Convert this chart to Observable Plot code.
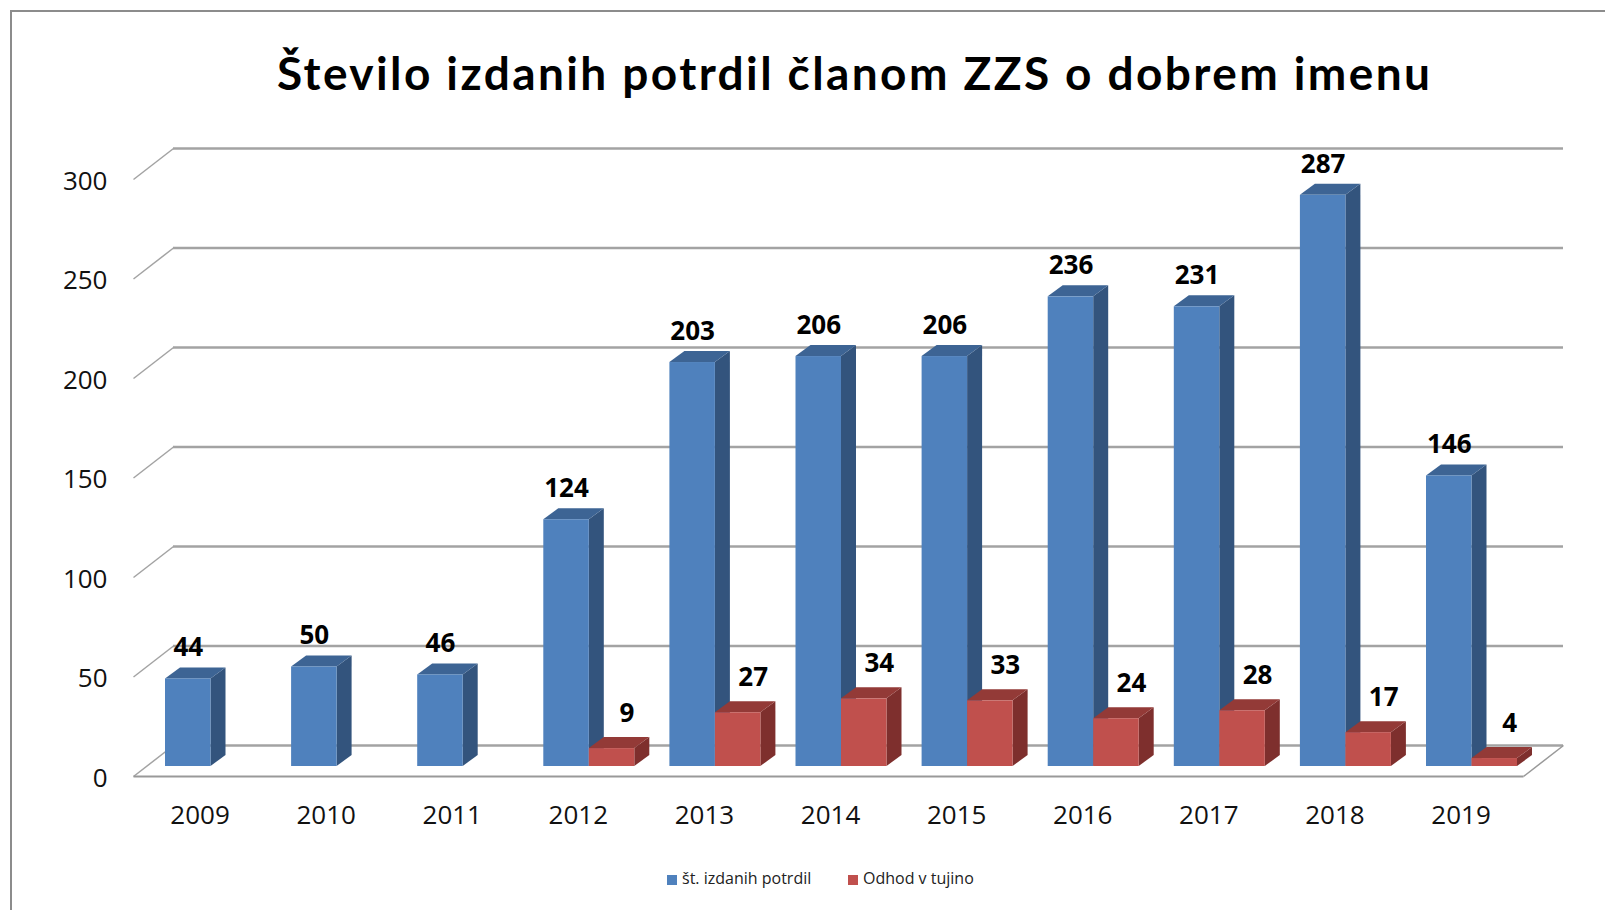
<!DOCTYPE html>
<html>
<head>
<meta charset="utf-8">
<script src="https://cdn.jsdelivr.net/npm/d3@7"></script>
<script src="https://cdn.jsdelivr.net/npm/@observablehq/plot@0.6"></script>
<style>
  html, body { margin: 0; padding: 0; background: #fff; }
  #wrap { position: relative; width: 1605px; height: 910px; overflow: hidden; background: #fff; }
  #frame { position: absolute; left: 10px; top: 10px; width: 1600px; height: 905px;
           border-left: 2px solid #8c8c8c; border-top: 2px solid #8c8c8c; box-sizing: border-box; }
  #chart { position: absolute; left: 0; top: 0; }
  #title { position: absolute; left: 277px; top: 50px; white-space: nowrap;
           font: bold 46px Lato, "Open Sans", sans-serif; line-height: 1; color: #000; }
  .leg { position: absolute; top: 868px; font: 16px "Open Sans", sans-serif; color: #222; white-space: nowrap; line-height: 20px; }
  .sw { display: inline-block; width: 10px; height: 10px; margin-right: 5px; vertical-align: -1px; }
</style>
</head>
<body>
<div id="wrap">
  <div id="frame"></div>
  <div id="chart"></div>
  <div id="title"></div>
  <div id="leg1" class="leg"></div>
  <div id="leg2" class="leg"></div>
</div>
<script>
// ---- data ----
const years = [2009, 2010, 2011, 2012, 2013, 2014, 2015, 2016, 2017, 2018, 2019];
const issued = [44, 50, 46, 124, 203, 206, 206, 236, 231, 287, 146];      // št. izdanih potrdil
const abroad = [null, null, null, 9, 27, 34, 33, 24, 28, 17, 4];          // Odhod v tujino
const yTicks = [0, 50, 100, 150, 200, 250, 300];
const seriesNames = ["št. izdanih potrdil", "Odhod v tujino"];
const titleText = "Število izdanih potrdil članom ZZS o dobrem imenu";

// ---- styling ----
const front = ["#4F81BD", "#C0504D"];
const side  = ["#33547D", "#7E2F2D"];
const top_  = ["#3D6494", "#933A37"];
const gridColor = "#a3a3a3";

// layout constants (pixels)
const W = 1605, H = 910;
const X0 = 165, STEP = 126.1, BAR = 45.5, Y0 = 766, PPU = 1.99;
const bw = BAR / STEP;             // bar width in category units
const DX = 15 / STEP, DY = 11 / PPU; // bar depth
const FRONT = (Y0 - 776) / PPU, BACK = (Y0 - 745) / PPU;
const xFL = (133 - X0) / STEP, xBL = (173 - X0) / STEP, xFR = (1523 - X0) / STEP, xBR = (1563 - X0) / STEP;

// ---- derived tables ----
const series = [issued, abroad];
const bars = [];
series.forEach((vals, s) => vals.forEach((v, i) => {
  if (v == null) return;
  const x0 = i + s * bw;
  bars.push({key: s + "-" + i, s, i, v, x0, x1: x0 + bw});
}));
const sideData = bars.flatMap(b => [
  {key: b.key, s: b.s, x: b.x1, lo: 0, hi: b.v},
  {key: b.key, s: b.s, x: b.x1 + DX, lo: DY, hi: b.v + DY}
]);
const topData = bars.flatMap(b => [
  {key: b.key, s: b.s, y: b.v, a: b.x0, b: b.x1},
  {key: b.key, s: b.s, y: b.v + DY, a: b.x0 + DX, b: b.x1 + DX}
]);

const barMarks = [0, 1].flatMap(s => [
  Plot.areaY(sideData.filter(d => d.s === s), {x: "x", y1: "lo", y2: "hi", z: "key", fill: side[s]}),
  Plot.areaX(topData.filter(d => d.s === s), {y: "y", x1: "a", x2: "b", z: "key", fill: top_[s]}),
  Plot.rect(bars.filter(d => d.s === s), {x1: "x0", x2: "x1", y1: 0, y2: "v", fill: front[s]})
]);

const plot = Plot.plot({
  width: W, height: H,
  marginLeft: 0, marginRight: 0, marginTop: 0, marginBottom: 0,
  x: {type: "linear", domain: [-X0 / STEP, (W - X0) / STEP], range: [0, W], axis: null},
  y: {type: "linear", domain: [(Y0 - H) / PPU, Y0 / PPU], range: [H, 0], axis: null},
  style: {background: "transparent", fontFamily: "'Open Sans', sans-serif"},
  marks: [
    // back wall gridlines + left diagonals
    Plot.ruleY(yTicks, {y: t => t + BACK, x1: xBL, x2: xBR, stroke: gridColor, strokeWidth: 2.5}),
    Plot.link(yTicks, {x1: xFL, y1: t => t + FRONT, x2: xBL, y2: t => t + BACK, stroke: gridColor, strokeWidth: 1.5}),
    // floor front edge + right diagonal
    Plot.link([0], {x1: xFL, y1: FRONT, x2: xFR, y2: FRONT, stroke: "#999", strokeWidth: 2}),
    Plot.link([0], {x1: xFR, y1: FRONT, x2: xBR, y2: BACK, stroke: "#999", strokeWidth: 1.5}),
    ...barMarks,
    // y tick labels
    Plot.text(yTicks, {x: (107 - X0) / STEP, y: t => t, dy: 12, text: t => String(t), textAnchor: "end",
      fontSize: 26, fill: "#111"}),
    // year labels
    Plot.text(years, {x: (d, i) => i + 0.274, y: 0, dy: 49, text: d => String(d), fontSize: 26, fill: "#111"}),
    // value labels
    Plot.text(bars.filter(d => d.s === 0), {x: d => d.x0 + bw / 2, y: "v", dy: -31, text: d => String(d.v),
      fontSize: 26, fontWeight: "bold", fill: "#000"}),
    Plot.text(bars.filter(d => d.s === 1), {x: d => d.x0 + bw / 2, y: "v", dy: -35, dx: 15, text: d => String(d.v),
      fontSize: 26, fontWeight: "bold", fill: "#000"})
  ]
});
document.getElementById("chart").appendChild(plot);

const titleEl = document.getElementById("title");
titleEl.textContent = titleText;
function fitTitle() {
  titleEl.style.letterSpacing = "0px";
  const w = titleEl.getBoundingClientRect().width;
  const target = 1153;
  const n = titleText.length - 1;
  titleEl.style.letterSpacing = ((target - w) / n) + "px";
}
fitTitle();
if (document.fonts && document.fonts.ready) document.fonts.ready.then(fitTitle);

const l1 = document.getElementById("leg1");
l1.style.left = "667px";
l1.innerHTML = `<span class="sw" style="background:${front[0]}"></span>${seriesNames[0]}`;
const l2 = document.getElementById("leg2");
l2.style.left = "848px";
l2.innerHTML = `<span class="sw" style="background:${front[1]}"></span>${seriesNames[1]}`;
</script>
</body>
</html>
